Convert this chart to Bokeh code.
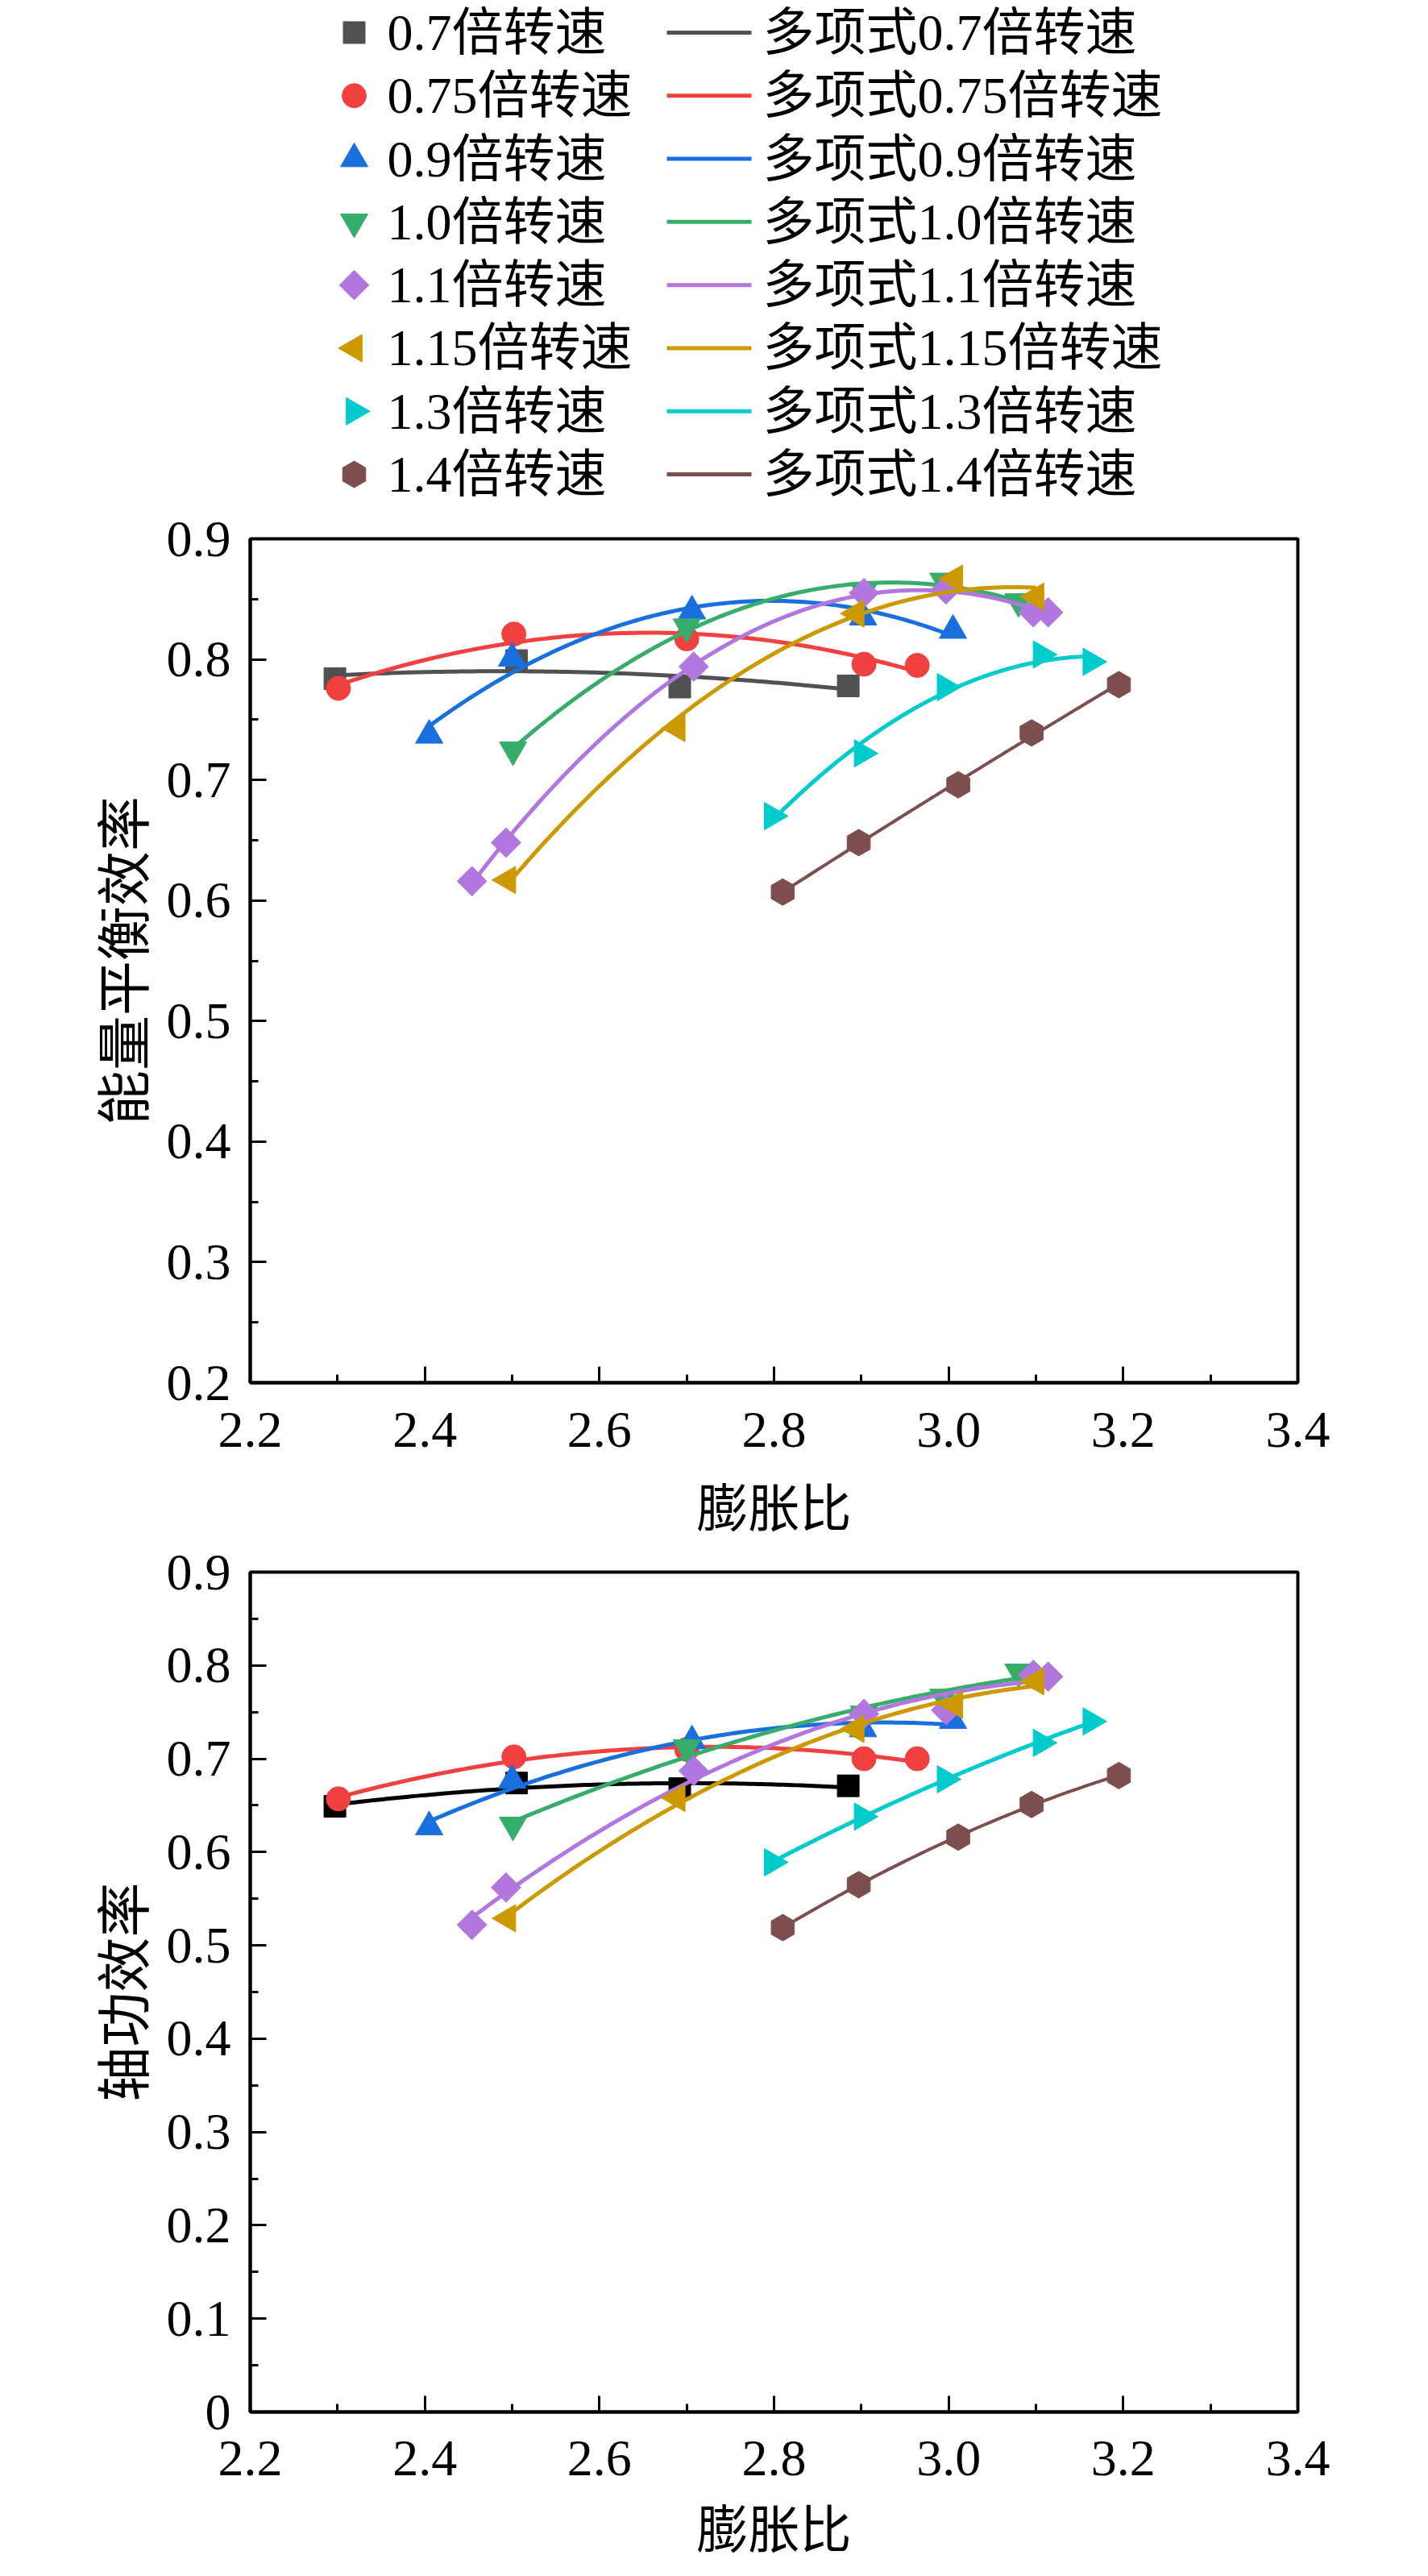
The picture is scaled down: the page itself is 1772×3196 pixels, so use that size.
import numpy as np
from bokeh.plotting import figure
from bokeh.models import ColumnDataSource, FixedTicker, Range1d, CustomJSTickFormatter
from bokeh.core.properties import value
from bokeh.layouts import column
from bokeh.embed import file_html
from bokeh.resources import INLINE

# rotational speed (times rated speed)
speeds = ["0.7", "0.75", "0.9", "1.0", "1.1", "1.15", "1.3", "1.4"]

# expansion ratio of the test points
x_07 = [2.297, 2.505, 2.692, 2.885]
x_075 = [2.301, 2.502, 2.700, 2.903, 2.964]
x_09 = [2.405, 2.500, 2.706, 2.902, 3.005]
x_10 = [2.501, 2.700, 2.903, 2.994, 3.080]
x_11 = [2.454, 2.493, 2.708, 2.903, 2.997, 3.097, 3.114]
x_115 = [2.495, 2.689, 2.894, 3.007, 3.100]
x_13 = [2.798, 2.901, 2.996, 3.106, 3.163]
x_14 = [2.810, 2.897, 3.011, 3.095, 3.195]

# energy balance efficiency (top chart)
eb_07 = [0.784, 0.799, 0.777, 0.778]
eb_075 = [0.776, 0.821, 0.817, 0.796, 0.795]
eb_09 = [0.737, 0.801, 0.840, 0.835, 0.824]
eb_10 = [0.725, 0.827, 0.857, 0.865, 0.848]
eb_11 = [0.616, 0.648, 0.794, 0.855, 0.858, 0.839, 0.839]
eb_115 = [0.617, 0.743, 0.838, 0.867, 0.852]
eb_13 = [0.670, 0.722, 0.777, 0.804, 0.798]
eb_14 = [0.607, 0.648, 0.696, 0.739, 0.779]

# shaft work efficiency (bottom chart)
sw_07 = [0.649, 0.674, 0.668, 0.671]
sw_075 = [0.657, 0.702, 0.710, 0.700, 0.700]
sw_09 = [0.627, 0.677, 0.719, 0.732, 0.741]
sw_10 = [0.629, 0.712, 0.748, 0.766, 0.793]
sw_11 = [0.522, 0.562, 0.687, 0.748, 0.752, 0.790, 0.788]
sw_115 = [0.529, 0.658, 0.732, 0.758, 0.783]
sw_13 = [0.589, 0.638, 0.678, 0.717, 0.740]
sw_14 = [0.519, 0.565, 0.616, 0.651, 0.682]

xs = [x_07, x_075, x_09, x_10, x_11, x_115, x_13, x_14]
eb = [eb_07, eb_075, eb_09, eb_10, eb_11, eb_115, eb_13, eb_14]
sw = [sw_07, sw_075, sw_09, sw_10, sw_11, sw_115, sw_13, sw_14]

x_ticks = [2.2, 2.4, 2.6, 2.8, 3.0, 3.2, 3.4]
x_minor = [2.3, 2.5, 2.7, 2.9, 3.1, 3.3]

colors = ["#515151", "#F14040", "#1A6FDF", "#37AD6B",
          "#B177DE", "#CC9900", "#00CBCC", "#7D4E4E"]
markers = ["square", "circle", "triangle", "inverted_triangle",
           "square", "triangle", "triangle", "hex"]
angles = [0, 0, 0, 0, np.pi / 4, np.pi / 2, -np.pi / 2, np.pi / 2]
sizes = [27, 30, 34, 34, 26, 34, 34, 33]

FONT = "Liberation Serif, Noto Sans CJK SC"
W = 1756


def fit_curve(x, y):
    # second order polynomial fit, like the original "多项式" curves
    c = np.polyfit(x, y, 2)
    xx = np.linspace(min(x), max(x), 120)
    return xx, np.polyval(c, xx)


def make_plot(ys, y_lo, ylabel, frame_h, top, bottom, first_color, tick_off, lab_off):
    p = figure(width=W, height=top + frame_h + bottom,
               x_range=Range1d(2.2, 3.4), y_range=Range1d(y_lo, 0.9),
               output_backend="svg", toolbar_location=None,
               min_border_left=310, min_border_right=W - 310 - 1300,
               min_border_top=top, min_border_bottom=bottom)
    p.grid.visible = False
    p.outline_line_color = "black"
    p.outline_line_width = 4

    for i in range(len(speeds)):
        c = first_color if i == 0 else colors[i]
        xx, yy = fit_curve(xs[i], ys[i])
        p.line(xx, yy, color=c, line_width=4 if i == 7 else 5)
        src = ColumnDataSource(data=dict(x=xs[i], y=ys[i]))
        p.scatter("x", "y", source=src, marker=markers[i], size=sizes[i],
                  angle=angles[i], fill_color=c, line_color=c)

    fmt = CustomJSTickFormatter(code="return tick == 0 ? '0' : tick.toFixed(1)")
    y_ticks = [round(v, 2) for v in np.arange(y_lo, 0.91, 0.1)]
    y_minor = [round(v + 0.05, 2) for v in y_ticks[:-1]]
    p.xaxis.ticker = FixedTicker(ticks=x_ticks, minor_ticks=x_minor)
    p.yaxis.ticker = FixedTicker(ticks=y_ticks, minor_ticks=y_minor)
    p.axis.formatter = fmt
    p.xaxis.axis_label = "膨胀比"
    p.yaxis.axis_label = ylabel
    for ax in p.axis:
        ax.axis_line_width = 4
        ax.major_tick_in = 20
        ax.major_tick_out = 0
        ax.minor_tick_in = 10
        ax.minor_tick_out = 0
        ax.major_tick_line_width = 3
        ax.minor_tick_line_width = 3
        ax.major_label_text_font = "Liberation Serif"
        ax.major_label_text_font_size = "64px"
        ax.major_label_text_color = "black"
        ax.axis_label_text_font = FONT
        ax.axis_label_text_font_size = "64px"
        ax.axis_label_text_font_style = "normal"
        ax.axis_label_text_color = "black"
    p.yaxis.axis_label_text_font_size = "68px"
    p.xaxis.major_label_standoff = tick_off
    p.xaxis.axis_label_standoff = lab_off
    p.yaxis.major_label_standoff = 24
    p.yaxis.axis_label_standoff = 10
    return p


# legend block above the charts: one row per speed, x in screen pixels
rows = list(range(len(speeds)))
leg = figure(width=W, height=628, x_range=Range1d(310, 1610),
             y_range=Range1d(7.51, -0.51),
             output_backend="svg", toolbar_location=None,
             x_axis_location=None, y_axis_location=None,
             min_border_left=310, min_border_right=W - 310 - 1300,
             min_border_top=0, min_border_bottom=0, outline_line_color=None)
leg.grid.visible = False

leg_src = ColumnDataSource(data=dict(
    row=rows, marker=markers, angle=angles, size=sizes, color=colors,
    mx=[439] * 8, tx1=[480] * 8, lx0=[827] * 8, lx1=[932] * 8, tx2=[946] * 8,
    lab1=[s + "倍转速" for s in speeds],
    lab2=["多项式" + s + "倍转速" for s in speeds]))
leg.scatter(x="mx", y="row", marker="marker", angle="angle", size="size",
            fill_color="color", line_color="color", source=leg_src)
leg.segment(x0="lx0", y0="row", x1="lx1", y1="row", line_color="color",
            line_width=5, source=leg_src)
for tx, lab in (("tx1", "lab1"), ("tx2", "lab2")):
    leg.text(x=tx, y="row", text=lab, source=leg_src, text_font=value(FONT),
             text_font_size="64px", text_color="black",
             text_align="left", text_baseline="middle")

p1 = make_plot(eb, 0.2, "能量平衡效率", 1047, 40, 205, colors[0], 37, 39)
p2 = make_plot(sw, 0.0, "轴功效率", 1042, 30, 196, "#000000", 36, 30)

layout = column(leg, p1, p2)
open("out.html", "w").write(file_html(layout, INLINE))
